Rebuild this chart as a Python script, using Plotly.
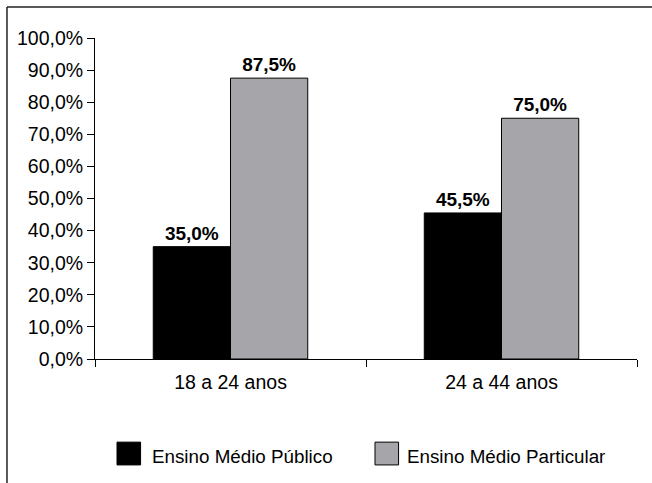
import plotly.graph_objects as go

categories = ["18 a 24 anos", "24 a 44 anos"]
series_names = ["Ensino Médio Público", "Ensino Médio Particular"]
publico = [35.0, 45.5]
particular = [87.5, 75.0]
colors = ["#000000", "#a6a6aa"]
y_ticks = [0, 10, 20, 30, 40, 50, 60, 70, 80, 90, 100]
y_tick_labels = ["0,0%", "10,0%", "20,0%", "30,0%", "40,0%", "50,0%",
                 "60,0%", "70,0%", "80,0%", "90,0%", "100,0%"]

FONT = "Liberation Sans, Arial, sans-serif"

fig = go.Figure()
for name, vals, col in zip(series_names, [publico, particular], colors):
    fig.add_trace(go.Bar(
        x=categories, y=vals, name=name,
        marker=dict(color=col, line=dict(color="#000000", width=1)),
        texttemplate="<b>%{y:.1f}%</b>", textposition="outside",
        textfont=dict(size=19, color="#000000", family=FONT),
        cliponaxis=False, showlegend=False, hoverinfo="skip",
    ))

fig.update_layout(
    width=652, height=483,
    margin=dict(l=95, r=15, t=38, b=124, autoexpand=False),
    paper_bgcolor="white", plot_bgcolor="white",
    barmode="group", bargap=0.43, bargroupgap=0,
    separators=",.",
    font=dict(family=FONT, size=19, color="#000000"),
    xaxis=dict(
        showline=True, linecolor="#000000", linewidth=1,
        ticks="outside", tickson="boundaries", ticklen=7, tickcolor="#000000",
        showgrid=False, tickfont=dict(size=19.5), automargin=False,
        ticklabelstandoff=6,
    ),
    yaxis=dict(
        range=[0, 100], tickvals=y_ticks, ticktext=y_tick_labels,
        showline=True, linecolor="#000000", linewidth=1,
        ticks="outside", ticklen=7, tickcolor="#000000",
        showgrid=False, zeroline=False, tickfont=dict(size=19.5), automargin=False,
    ),
)

# frame around chart (left & top edges visible, rest beyond canvas)
fx0, fy1 = -0.1624, 1.0966
fig.add_shape(type="line", xref="paper", yref="paper",
              x0=fx0, x1=fx0, y0=-0.6, y1=fy1,
              line=dict(color="#222222", width=1.5), layer="above")
fig.add_shape(type="line", xref="paper", yref="paper",
              x0=fx0, x1=1.2, y0=fy1, y1=fy1,
              line=dict(color="#222222", width=1.5), layer="above")

# custom legend
sq_w = 0.0435
for (x0, tx), name, col in zip([(0.0406, 0.1015), (0.5166, 0.572)], series_names, colors):
    fig.add_shape(type="rect", xref="paper", yref="paper",
                  x0=x0, x1=x0 + sq_w, y0=-0.330, y1=-0.259,
                  fillcolor=col, line=dict(color="#000000", width=1))
    fig.add_annotation(xref="paper", yref="paper", x=tx, y=-0.305,
                       text=name, showarrow=False, xanchor="left", yanchor="middle",
                       font=dict(size=18.8, color="#000000", family=FONT))

fig.write_html("out.html",
               config={"displayModeBar": False, "staticPlot": True},
               post_script="document.body.style.margin='0';document.body.style.overflow='hidden';")
